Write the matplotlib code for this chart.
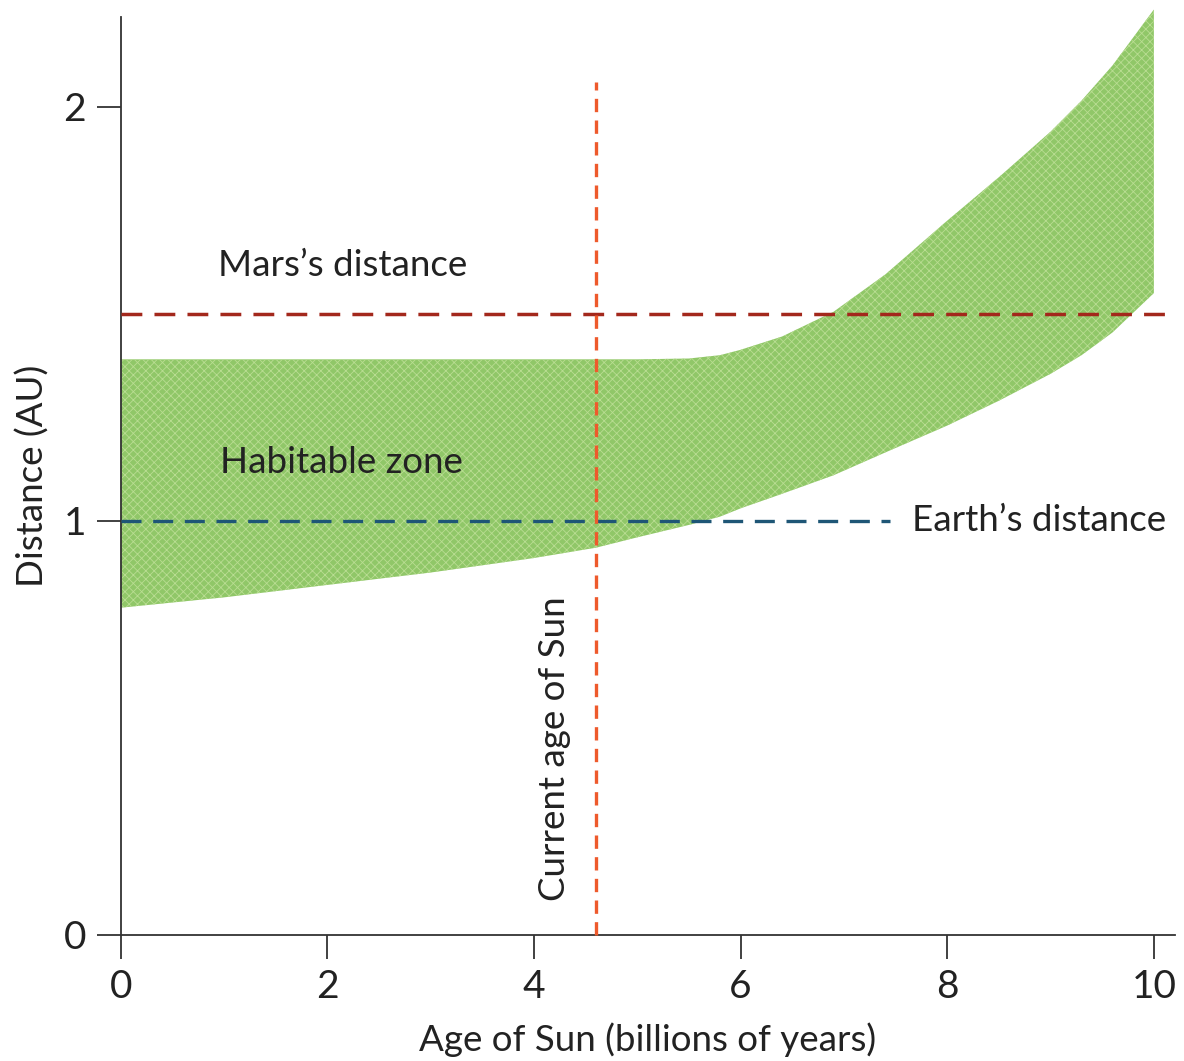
import matplotlib.pyplot as plt

# habitable zone boundaries (AU vs billions of years)
age = [0, 1, 2, 3, 4, 4.6, 5, 5.5, 5.8, 6, 6.4, 6.9, 7.4, 8, 8.5, 9, 9.3, 9.6, 10]
inner = [0.79, 0.815, 0.845, 0.875, 0.91, 0.935, 0.96, 0.99, 1.01, 1.03, 1.065, 1.11,
         1.165, 1.23, 1.29, 1.355, 1.40, 1.455, 1.55]
outer = [1.39, 1.39, 1.39, 1.39, 1.39, 1.39, 1.39, 1.392, 1.40, 1.413, 1.445, 1.505,
         1.595, 1.725, 1.83, 1.94, 2.015, 2.10, 2.235]

mars_au = 1.5
earth_au = 1.0
sun_age = 4.6
earth_end = 7.45

plt.rcParams['font.family'] = ['Lato', 'DejaVu Sans']
plt.rcParams['hatch.linewidth'] = 0.6

fig = plt.figure(figsize=(11.84, 10.61), dpi=100)
ax = fig.add_axes([0.102, 0.119, 0.890, 0.865])

ax.fill_between(age, inner, outer, facecolor='#90c768', edgecolor='#b9dd92',
                hatch='xxxx', linewidth=0, zorder=1, clip_on=False)

ax.axhline(mars_au, color='#a3281c', linestyle=(0, (6, 3.5)), linewidth=2.5, zorder=3)
ax.plot([0, earth_end], [earth_au, earth_au], color='#1e5676',
        linestyle=(0, (6, 3.5)), linewidth=2.4, zorder=3)
ax.plot([sun_age, sun_age], [0, 2.06], color='#ee5a2c',
        linestyle=(0, (4, 2.5)), linewidth=2.4, zorder=4, clip_on=False)

txt = dict(fontsize=26.5, color='#222222')
ax.text(0.94, 1.616, "Mars\u2019s distance", va='center', **txt)
ax.text(0.96, 1.14, "Habitable zone", va='center', **txt)
ax.text(7.66, 1.0, "Earth\u2019s distance", va='center', **txt)
ax.text(4.2, 0.45, "Current age of Sun", rotation=90, ha='center', va='center', **txt)

ax.set_xlim(0, 10.2)
ax.set_ylim(0, 2.217)
ax.set_xticks([0, 2, 4, 6, 8, 10])
ax.set_yticks([0, 1, 2])
ax.tick_params(labelsize=28, labelcolor='#222222', length=17, width=1.3,
               color='#333333', pad=8)
ax.spines['top'].set_visible(False)
ax.spines['right'].set_visible(False)
for s in ['left', 'bottom']:
    ax.spines[s].set_linewidth(1.3)
    ax.spines[s].set_color('#333333')

ax.set_xlabel("Age of Sun (billions of years)", fontsize=26.5, color='#222222', labelpad=12)
ax.set_ylabel("Distance (AU)", fontsize=26.5, color='#222222', labelpad=10)

fig.savefig('out.png', dpi=100)
